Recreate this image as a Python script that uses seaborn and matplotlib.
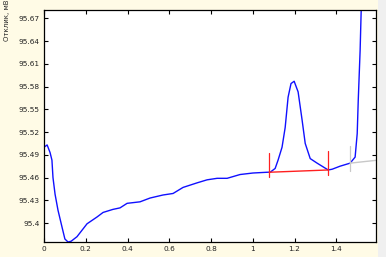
import matplotlib
matplotlib.use("Agg")
import matplotlib.pyplot as plt
import seaborn as sns
import pandas as pd
from matplotlib.patches import Rectangle

# ---- data ----
time_x = [0.000, 0.015, 0.029, 0.038, 0.043, 0.053, 0.067, 0.086, 0.100, 0.115,
          0.130, 0.158, 0.206, 0.254, 0.283, 0.330, 0.364, 0.398, 0.460, 0.508,
          0.570, 0.618, 0.666, 0.733, 0.781, 0.829, 0.877, 0.939, 1.001, 1.069,
          1.083, 1.107, 1.121, 1.140, 1.155, 1.169, 1.183, 1.198, 1.217, 1.236,
          1.251, 1.275, 1.308, 1.361, 1.380, 1.418, 1.466, 1.490, 1.500, 1.505,
          1.514, 1.519]
signal_y = [95.500, 95.503, 95.493, 95.483, 95.460, 95.438, 95.417, 95.395, 95.379, 95.375,
            95.376, 95.382, 95.399, 95.408, 95.414, 95.418, 95.420, 95.426, 95.428, 95.433,
            95.437, 95.439, 95.447, 95.453, 95.457, 95.459, 95.459, 95.464, 95.466, 95.467,
            95.467, 95.472, 95.483, 95.500, 95.526, 95.566, 95.584, 95.587, 95.573, 95.536,
            95.505, 95.485, 95.479, 95.470, 95.471, 95.475, 95.479, 95.487, 95.518, 95.562,
            95.628, 95.680]

# peak baseline (red) and next baseline (grey)
peak_base_x = [1.078, 1.361]
peak_base_y = [95.467, 95.470]
peak_mark_lo = [95.461, 95.463]
peak_mark_hi = [95.492, 95.495]
grey_base_x = [1.466, 1.600]
grey_base_y = [95.479, 95.483]
grey_mark_x = 1.466
grey_mark_lo, grey_mark_hi = 95.468, 95.501

xticks = [0, 0.2, 0.4, 0.6, 0.8, 1.0, 1.2, 1.4]
xtick_labels = ["0", "0.2", "0.4", "0.6", "0.8", "1", "1.2", "1.4"]
yticks = [95.40, 95.43, 95.46, 95.49, 95.52, 95.55, 95.58, 95.61, 95.64, 95.67]
ytick_labels = ["95.4", "95.43", "95.46", "95.49", "95.52", "95.55", "95.58", "95.61", "95.64", "95.67"]
ylabel = "Отклик, мВ"

sns.set_style("white")
plt.rcParams['font.family'] = ['DejaVu Sans']

W, H = 386, 257
fig = plt.figure(figsize=(W / 100, H / 100), dpi=100, facecolor="#fffbe6")
ax = fig.add_axes([44 / W, 15 / H, 332 / W, 232 / H])
ax.set_facecolor("white")

df = pd.DataFrame({"t": time_x, "v": signal_y})
sns.lineplot(data=df, x="t", y="v", ax=ax, color="#1010ff", lw=1.0,
             estimator=None, sort=False)

red = "#ff2020"
ax.plot(peak_base_x, peak_base_y, color=red, lw=1.0)
for xv, lo, hi in zip(peak_base_x, peak_mark_lo, peak_mark_hi):
    ax.plot([xv, xv], [lo, hi], color=red, lw=0.9)
grey = "#c8c8c8"
ax.plot(grey_base_x, grey_base_y, color=grey, lw=1.0, clip_on=True)
ax.plot([grey_mark_x, grey_mark_x], [grey_mark_lo, grey_mark_hi], color=grey, lw=0.9)

ax.set_xlim(0, 1.59)
ax.set_ylim(95.375, 95.681)
ax.set_xticks(xticks)
ax.set_xticklabels(xtick_labels)
ax.set_yticks(yticks)
ax.set_yticklabels(ytick_labels)
ax.tick_params(direction="in", length=3, width=0.8, labelsize=5.3, colors="black",
               labelcolor="#222222", top=True, right=True, bottom=True, left=True, pad=3)
for s in ax.spines.values():
    s.set_visible(True)
    s.set_color("black")
    s.set_linewidth(0.9)
ax.set_xlabel("")
ax.set_ylabel(ylabel, fontsize=5, labelpad=0)
ax.yaxis.set_label_coords(-0.111, 0.955)
ax.yaxis.label.set_va("center")
ax.yaxis.label.set_ha("center")

# light grey strip at the right edge
fig.patches.append(Rectangle((378 / W, 0), 8 / W, 1, transform=fig.transFigure,
                             facecolor="#f0f0f0", edgecolor="none", zorder=-1))

fig.savefig("out.png", dpi=100, facecolor=fig.get_facecolor())
